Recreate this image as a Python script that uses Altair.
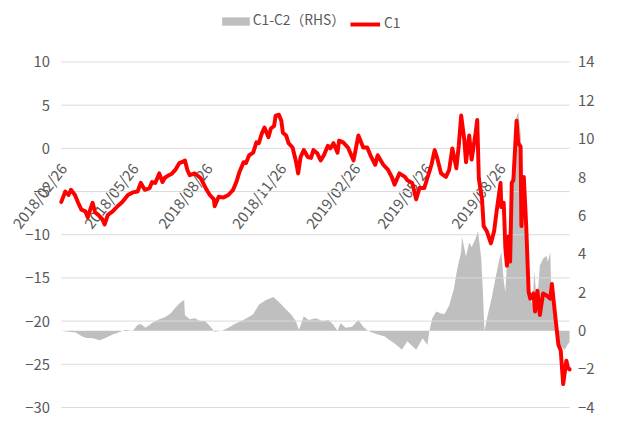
import altair as alt
import pandas as pd

BASE_DATE = "2018-02-26"

# C1 (left axis): days since 2018-02-26 and values
c1_day = [0, 5, 9, 12, 17, 21, 25, 30, 33, 36,
          39, 42, 46, 51, 54, 58, 64, 70, 76, 83,
          89, 95, 99, 104, 110, 113, 117, 122, 126, 129,
          134, 138, 142, 147, 150, 154, 157, 160, 166, 173,
          175, 181, 185, 190, 191, 196, 202, 208, 214, 218,
          222, 227, 230, 234, 239, 243, 246, 250, 253, 258,
          261, 265, 267, 271, 274, 276, 280, 283, 288, 292,
          295, 298, 302, 307, 311, 314, 319, 323, 327, 332,
          335, 339, 344, 346, 351, 357, 364, 370, 376, 381,
          385, 391, 394, 401, 407, 412, 415, 421, 428, 431,
          437, 442, 446, 452, 456, 461, 465, 468, 473, 479,
          483, 487, 492, 495, 498, 502, 504, 508, 511, 516,
          518, 520, 524, 526, 530, 535, 539, 542, 547, 548,
          551, 553, 555, 557, 559, 561, 563, 567, 569, 572,
          573, 576, 579, 582, 584, 588, 590, 593, 596, 600,
          604, 609, 611, 615, 619, 622, 625, 629, 631, 633]
c1_val = [-6.2, -5.0, -5.4, -4.8, -5.4, -6.3, -7.1, -7.3, -8.0, -7.1,
          -6.3, -7.4, -7.7, -8.2, -8.8, -7.7, -7.3, -6.7, -6.2, -5.4,
          -5.1, -5.0, -4.0, -4.8, -4.6, -3.9, -4.0, -2.9, -3.9, -3.4,
          -3.1, -2.9, -2.5, -1.7, -1.6, -1.4, -2.5, -3.1, -2.9, -3.4,
          -3.7, -4.8, -5.4, -5.9, -6.7, -5.6, -5.7, -5.4, -4.8, -3.9,
          -2.7, -1.6, -1.7, -0.8, -0.5, 0.7, 0.6, 1.8, 2.4, 1.3,
          2.3, 2.6, 3.8, 3.9, 3.2, 1.8, 1.5, 0.6, 0.1, -1.4,
          -2.9, -1.0, -0.2, -1.0, -1.1, -0.2, -0.6, -1.4, -0.8, 0.3,
          0.0, 0.6, -0.5, 0.9, 0.7, 0.1, -1.4, 1.5, 0.1, 0.1,
          -0.8, -1.9, -0.8, -1.9, -2.5, -3.4, -4.2, -2.9, -3.3, -3.7,
          -4.0, -5.9, -4.6, -4.6, -3.4, -1.9, -0.2, -1.1, -2.9, -3.3,
          -2.5, 0.0, -2.3, 0.3, 3.8, 0.9, -1.6, 1.5, -1.3, 1.8,
          3.3, -3.5, -5.9, -9.0, -9.6, -11.0, -9.6, -7.4, -4.0, -6.8,
          -6.3, -11.5, -13.6, -10.2, -13.1, -4.0, -3.7, 3.2, 0.6, 0.2,
          -9.0, -3.3, -9.0, -16.6, -17.4, -16.8, -18.9, -16.5, -19.3, -16.8,
          -17.0, -17.4, -15.7, -19.3, -22.7, -23.4, -27.3, -24.6, -25.4, -25.6]

# C1-C2 (right axis)
spread_day = [0, 9, 18, 26, 31, 39, 48, 55, 64, 73,
              79, 89, 95, 99, 105, 113, 122, 129, 136, 142,
              148, 153, 154, 160, 166, 173, 179, 185, 191, 200,
              208, 216, 224, 233, 239, 246, 251, 255, 264, 271,
              280, 286, 292, 296, 302, 308, 317, 325, 333, 339,
              344, 348, 354, 362, 370, 376, 382, 387, 394, 403,
              407, 413, 419, 424, 431, 437, 442, 450, 456, 458,
              462, 467, 473, 477, 483, 489, 493, 498, 499, 504,
              508, 511, 516, 519, 523, 525, 527, 532, 536, 541,
              545, 548, 551, 553, 557, 561, 566, 569, 572, 574,
              577, 579, 582, 584, 587, 589, 592, 594, 596, 600,
              604, 606, 609, 610, 613, 615, 619, 622, 627, 631,
              633]
spread_val = [0.0, -0.05, -0.1, -0.3, -0.38, -0.4, -0.5, -0.38, -0.2, -0.07,
              0.05, 0.0, 0.3, 0.35, 0.15, 0.4, 0.6, 0.7, 0.9, 1.2,
              1.45, 1.6, 0.8, 0.6, 0.65, 0.5, 0.5, 0.25, -0.05, 0.0,
              0.15, 0.35, 0.5, 0.7, 0.85, 1.35, 1.5, 1.6, 1.75, 1.5,
              1.1, 0.85, 0.5, 0.05, 0.75, 0.55, 0.65, 0.5, 0.55, 0.3,
              0.0, 0.4, 0.15, 0.2, 0.55, 0.2, 0.0, -0.1, -0.2, -0.3,
              -0.45, -0.6, -0.8, -1.0, -0.55, -0.8, -1.0, -0.4, -0.75, -0.1,
              0.65, 1.0, 0.9, 0.85, 1.3, 2.2, 3.2, 4.1, 4.9, 3.85,
              4.6, 4.35, 4.8, 5.2, 3.75, 2.05, 0.0, 1.0, 1.7, 2.8,
              3.6, 4.1, 2.6, 2.0, 5.0, 7.9, 11.0, 11.4, 10.3, 8.9,
              5.1, 6.8, 3.75, 1.7, 1.3, 3.1, 1.7, 2.3, 3.4, 3.75,
              3.9, 3.6, 4.1, 2.3, 1.0, 0.0, -0.5, -0.8, -1.0, -0.7,
              -0.6]

series_names = ["C1-C2（RHS）", "C1"]
tick_dates = [(2018, 2, 26), (2018, 5, 26), (2018, 8, 26), (2018, 11, 26),
              (2019, 2, 26), (2019, 5, 26), (2019, 8, 26)]
x_domain = [(2018, 2, 26), (2019, 11, 21)]
left_ticks = [-30, -25, -20, -15, -10, -5, 0, 5, 10]
right_ticks = [-4, -2, 0, 2, 4, 6, 8, 10, 12, 14]

FONT = "Noto Sans CJK SC"
GREY = "#595959"
Y_FS = 15
X_FS = 15
W, H = 515, 350

base = pd.Timestamp(BASE_DATE)
c1_df = pd.DataFrame({
    "date": (base + pd.to_timedelta(c1_day, unit="D")).strftime("%Y-%m-%dT00:00:00"),
    "value": c1_val, "series": series_names[1]})
spread_df = pd.DataFrame({
    "date": (base + pd.to_timedelta(spread_day, unit="D")).strftime("%Y-%m-%dT00:00:00"),
    "value": spread_val, "series": series_names[0]})
grid_df = pd.DataFrame({"v": left_ticks})


def dt(t):
    return alt.DateTime(year=t[0], month=t[1], date=t[2])


zero_offset = -H * (left_ticks[-1] - 0) / (left_ticks[-1] - left_ticks[0])
x_enc = alt.X(
    "date:T",
    scale=alt.Scale(domain=[dt(x_domain[0]), dt(x_domain[1])]),
    axis=alt.Axis(values=[dt(t) for t in tick_dates], format="%Y/%m/%d",
                  labelAngle=-52, labelAlign="right", labelBaseline="top",
                  labelPadding=13, labelOffset=-3, ticks=False, domain=False, grid=False,
                  offset=-(H + zero_offset), labelFont=FONT, labelFontSize=X_FS,
                  labelColor=GREY, title=None, labelOverlap=False, labelFlush=False),
)

area = alt.Chart(spread_df).mark_area(interpolate="linear").encode(
    x=x_enc,
    y=alt.Y("value:Q", scale=alt.Scale(domain=[right_ticks[0], right_ticks[-1]], nice=False),
            axis=alt.Axis(orient="right", values=right_ticks, grid=False, ticks=False,
                          domain=False, labelPadding=8, labelFont=FONT, labelFontSize=Y_FS,
                          labelColor=GREY, title=None)),
    y2=alt.datum(0),
    color=alt.Color("series:N",
                    scale=alt.Scale(domain=[series_names[0]], range=["#bfbfbf"]),
                    legend=alt.Legend(title=None, orient="none", legendX=163, legendY=-55,
                                      symbolType="M-1,-0.3L1,-0.3L1,0.3L-1,0.3Z",
                                      symbolSize=784, symbolStrokeWidth=0,
                                      labelFont=FONT, labelFontSize=14, labelColor=GREY,
                                      labelOffset=3)),
)

grid = alt.Chart(grid_df).mark_rule(color="#d9d9d9", strokeWidth=1).encode(
    y=alt.Y("v:Q", scale=alt.Scale(domain=[left_ticks[0], left_ticks[-1]], nice=False), axis=None)
)

line = alt.Chart(c1_df).mark_line(strokeWidth=4, strokeJoin="round", strokeCap="round").encode(
    x=x_enc,
    y=alt.Y("value:Q", scale=alt.Scale(domain=[left_ticks[0], left_ticks[-1]], nice=False),
            axis=alt.Axis(orient="left", values=left_ticks, grid=False, ticks=False,
                          domain=False, labelPadding=12, labelFont=FONT, labelFontSize=Y_FS,
                          labelColor=GREY, title=None)),
    color=alt.Color("series:N",
                    scale=alt.Scale(domain=[series_names[1]], range=["#ff0000"]),
                    legend=alt.Legend(title=None, orient="none", legendX=291, legendY=-55,
                                      symbolType="stroke", symbolSize=900,
                                      symbolStrokeWidth=4,
                                      labelFont=FONT, labelFontSize=14, labelColor=GREY,
                                      labelOffset=2)),
)

chart = alt.layer(area, grid, line).resolve_scale(
    y="independent", color="independent"
).properties(
    width=W, height=H,
    autosize=alt.AutoSizeParams(type="none"),
    padding={"left": 54, "top": 52, "right": 44, "bottom": 10},
).configure_view(stroke=None)

chart.save("out.html", embed_options={"renderer": "svg", "actions": False})
